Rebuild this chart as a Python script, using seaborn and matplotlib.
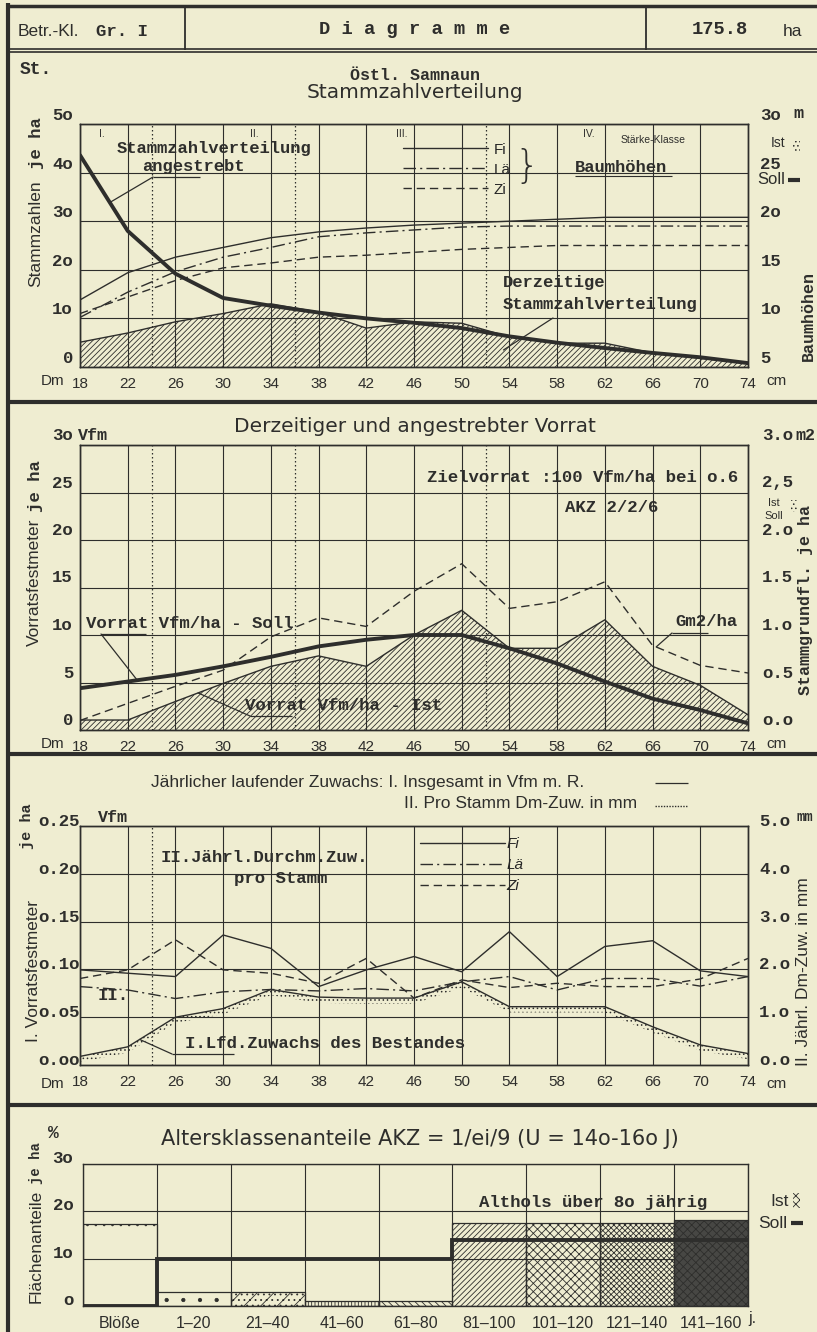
import numpy as np
import pandas as pd
import matplotlib
matplotlib.use("Agg")
import matplotlib.pyplot as plt
import seaborn as sns
from matplotlib.transforms import ScaledTranslation
from matplotlib.lines import Line2D
from matplotlib.patches import Rectangle

# ---------------- data ----------------
dm = [18, 22, 26, 30, 34, 38, 42, 46, 50, 54, 58, 62, 66, 70, 74]
dm_labels = ["18", "22", "26", "30", "34", "38", "42", "46", "50", "54", "58", "62", "66", "70", "74"]

# Panel 1: Stammzahlverteilung (St. je ha) and Baumhöhen (m)
stamm_soll = [43.6, 28.0, 19.2, 14.2, 12.6, 11.2, 10.0, 9.1, 8.0, 6.3, 5.0, 3.9, 2.9, 2.0, 0.8]
stamm_ist = [5.1, 7.0, 9.3, 11.0, 13.0, 11.3, 8.0, 9.3, 9.0, 6.2, 4.9, 4.9, 2.9, 1.8, 0.8]
hoehe_fi = [11.9, 14.7, 16.3, 17.3, 18.3, 18.9, 19.3, 19.6, 19.8, 20.0, 20.2, 20.4, 20.4, 20.4, 20.4]
hoehe_lae = [10.1, 12.7, 14.8, 16.3, 17.3, 18.4, 18.8, 19.1, 19.4, 19.5, 19.5, 19.5, 19.5, 19.5, 19.5]
hoehe_zi = [10.5, 12.2, 13.9, 15.2, 15.7, 16.3, 16.5, 16.8, 17.1, 17.3, 17.5, 17.5, 17.5, 17.5, 17.5]
st_ticks = [0, 10, 20, 30, 40, 50]
st_labels = ["0", "1o", "2o", "3o", "4o", "5o"]
h_ticks = [5, 10, 15, 20, 25, 30]
h_labels = ["5", "1o", "15", "2o", "25", "3o"]

# Panel 2: Vorrat (Vfm je ha) and Stammgrundfläche (m2 je ha)
vorrat_soll = [4.4, 5.1, 5.8, 6.7, 7.7, 8.8, 9.5, 10.0, 10.0, 8.6, 7.0, 5.1, 3.3, 2.1, 0.7]
vorrat_ist = [1.05, 1.05, 3.0, 4.9, 6.7, 7.8, 6.7, 10.0, 12.6, 8.6, 8.6, 11.6, 6.7, 4.7, 1.6]
grundfl = [0.10, 0.28, 0.46, 0.63, 0.98, 1.18, 1.09, 1.46, 1.75, 1.28, 1.35, 1.56, 0.89, 0.68, 0.60]
v_ticks = [0, 5, 10, 15, 20, 25, 30]
v_labels = ["0", "5", "1o", "15", "2o", "25", "3o"]
g_ticks = [0.0, 0.5, 1.0, 1.5, 2.0, 2.5, 3.0]
g_labels = ["o.o", "o.5", "1.o", "1.5", "2.o", "2,5", "3.o"]

# Panel 3: Zuwachs (Vfm) and Durchmesserzuwachs (mm)
zuw_fi = [1.99, 1.92, 1.85, 2.72, 2.44, 1.64, 1.99, 2.27, 1.95, 2.79, 1.85, 2.48, 2.60, 1.97, 1.85]
zuw_zi = [1.81, 1.99, 2.62, 1.99, 1.92, 1.71, 2.23, 1.40, 1.78, 1.62, 1.71, 1.64, 1.64, 1.80, 2.23]
zuw_lae = [1.64, 1.57, 1.39, 1.53, 1.58, 1.55, 1.60, 1.55, 1.74, 1.85, 1.57, 1.81, 1.81, 1.65, 1.85]
zuw_lfd = [0.009, 0.019, 0.050, 0.059, 0.079, 0.071, 0.070, 0.070, 0.087, 0.061, 0.061, 0.061, 0.040, 0.021, 0.012]
z_ticks = [0.0, 0.05, 0.10, 0.15, 0.20, 0.25]
z_labels = ["o.oo", "o.o5", "o.1o", "o.15", "o.2o", "o.25"]
mm_ticks = [0, 1, 2, 3, 4, 5]
mm_labels = ["o.o", "1.o", "2.o", "3.o", "4.o", "5.o"]

# Panel 4: Altersklassenanteile (ha)
klassen = ["Blöße", "1–20", "21–40", "41–60", "61–80", "81–100", "101–120", "121–140", "141–160"]
flaeche_ist = [17.3, 3.0, 3.0, 1.1, 1.1, 17.5, 17.5, 17.5, 18.2]
flaeche_soll = [0, 10, 10, 10, 10, 14, 14, 14, 14]
f_ticks = [0, 10, 20, 30]
f_labels = ["o", "1o", "2o", "3o"]

# ---------------- style ----------------
BG = "#efedd1"
INK = "#2e2e2c"
sns.set_style("ticks")
SANS = ["DejaVu Sans"]
NARROW = ["Liberation Sans", "DejaVu Sans"]
MONO = "Liberation Mono"
plt.rcParams["font.family"] = NARROW
plt.rcParams["hatch.linewidth"] = 0.6
plt.rcParams["hatch.color"] = INK
plt.rcParams["axes.edgecolor"] = INK
plt.rcParams["axes.linewidth"] = 1.0

W, H = 817, 1332
fig = plt.figure(figsize=(W / 100, H / 100), dpi=100, facecolor=BG)


def add_ax(x0, y0, x1, y1):
    a = fig.add_axes([x0 / W, 1 - y1 / H, (x1 - x0) / W, (y1 - y0) / H])
    a.set_facecolor("none")
    return a


ax0 = fig.add_axes([0, 0, 1, 1], zorder=5)
ax0.set_xlim(0, W)
ax0.set_ylim(H, 0)
ax0.axis("off")


def T(x, y, s, size=11, ha="left", va="center", mono=False, rot=0, wide=False, **kw):
    fam = MONO if mono else (SANS if wide else NARROW)
    wt = "bold" if mono else "normal"
    return ax0.text(x, y, s, fontsize=size, ha=ha, va=va, family=fam, weight=wt,
                    rotation=rot, color=INK, **kw)


def seg(xs, ys, lw=0.9, **kw):
    ax0.plot(xs, ys, color=INK, lw=lw, solid_capstyle="butt", **kw)


def leader(ax, xy, px, py):
    ax.annotate("", xy=xy, xycoords="data", xytext=(px, H - py), textcoords="figure pixels",
                arrowprops=dict(arrowstyle="-", color=INK, lw=0.9, shrinkA=0, shrinkB=0))


def shift_labels(labels, dy_px):
    off = ScaledTranslation(0, dy_px / 100, fig.dpi_scale_trans)
    for lab in labels:
        lab.set_transform(lab.get_transform() + off)


def dm_axis(ax, dotted):
    ax.set_xlim(18, 74)
    ax.set_xticks(dm, dm_labels, fontsize=11)
    ax.set_xticks(dotted, minor=True)
    ax.grid(True, which="major", color=INK, lw=0.8)
    ax.grid(True, which="minor", axis="x", color=INK, lw=0.9, ls=(0, (1.2, 2.0)))
    ax.tick_params(which="both", length=0, colors=INK)
    ax.tick_params(axis="x", pad=7)


LSTY = {"Fi": "-", "Lä": (0, (9, 3, 1.5, 3)), "Zi": (0, (6, 3.5))}

# ---------------- frame / header ----------------
seg([8, 8], [3, H], lw=3)
seg([8, W], [6, 6], lw=2.5)
seg([8, W], [49, 49], lw=1.2)
seg([8, W], [52, 52], lw=1.2)
seg([185, 185], [6, 50], lw=1.3)
seg([646, 646], [6, 50], lw=1.3)
for yy in (402, 754, 1105):
    seg([8, W], [yy, yy], lw=3)

T(18, 31, "Betr.-Kl.", size=12.5)
T(96, 31, "Gr. I", size=12.5, mono=True)
T(415, 30, "D i a g r a m m e", size=13.5, ha="center", mono=True)
T(720, 30, "175.8", size=13.5, ha="center", mono=True)
T(783, 31, "ha", size=12.5)

# ---------------- Panel 1 ----------------
ax1 = add_ax(80, 124, 748, 367)
ax1.fill_between(dm, 0, stamm_ist, facecolor="none", edgecolor=INK, hatch="//////", lw=0)
sns.lineplot(x=dm, y=stamm_ist, ax=ax1, color=INK, lw=1.0)
sns.lineplot(x=dm, y=stamm_soll, ax=ax1, color=INK, lw=2.8)
ax1.set_ylim(0, 50)
ax1.set_yticks(st_ticks, st_labels, family=MONO, weight="bold", fontsize=12.5)
dm_axis(ax1, [24, 36, 52])
ax1.tick_params(axis="y", pad=5)
ax1b = ax1.twinx()
sns.lineplot(x=dm, y=hoehe_fi, ax=ax1b, color=INK, lw=1.0, ls=LSTY["Fi"])
sns.lineplot(x=dm, y=hoehe_lae, ax=ax1b, color=INK, lw=1.0, ls=LSTY["Lä"])
sns.lineplot(x=dm, y=hoehe_zi, ax=ax1b, color=INK, lw=1.0, ls=LSTY["Zi"])
ax1b.set_ylim(5, 30)
ax1b.set_yticks(h_ticks, h_labels, family=MONO, weight="bold", fontsize=12.5)
ax1b.tick_params(length=0, pad=9, colors=INK)
ax1b.set_xlim(18, 74)
ax1b.set_ylabel("")
ax1.set_ylabel("")
ax1b.legend(handles=[Line2D([], [], color=INK, lw=1.0, ls=LSTY[k]) for k in LSTY],
            labels=list(LSTY), loc="upper left", bbox_to_anchor=(0.472, 0.955),
            frameon=False, handlelength=5.6, handletextpad=0.35, labelspacing=0.4,
            borderpad=0, prop=dict(size=11, family=NARROW))
shift_labels(ax1.get_yticklabels(), 10)
shift_labels(ax1b.get_yticklabels(), 10)

T(20, 70, "St.", size=13, mono=True)
T(415, 75, "Östl. Samnaun", size=12, ha="center", mono=True)
T(415, 93, "Stammzahlverteilung", size=14.5, ha="center", wide=True)
T(793, 114, "m", size=12, mono=True)
T(36, 234, "Stammzahlen", size=12.5, ha="center", rot=90)
T(37, 143, "je ha", size=12.5, ha="center", rot=90, mono=True)
T(808, 316, "Baumhöhen", size=12, ha="center", rot=90, mono=True)
T(99, 134, "I.", size=7.5)
T(250, 134, "II.", size=7.5)
T(396, 134, "III.", size=7.5)
T(583, 134, "IV.", size=7.5)
T(653, 140, "Stärke-Klasse", size=7.5, ha="center")
ax0.text(527, 167, "}", fontsize=28, ha="center", va="center", family="DejaVu Sans",
         weight="light", color=INK)
T(117, 148, "Stammzahlverteilung", size=12.3, mono=True)
T(142, 167, "angestrebt", size=12.3, mono=True)
seg([153, 200], [177, 177])
leader(ax1, (20.5, float(np.interp(20.5, dm, stamm_soll))), 153, 177)
T(575, 167, "Baumhöhen", size=12.3, mono=True)
seg([575, 672], [176, 176], lw=0.8)
T(503, 282, "Derzeitige", size=12.3, mono=True)
T(503, 305, "Stammzahlverteilung", size=12.3, mono=True)
leader(ax1, (53.5, 3.5), 553, 318)
T(771, 143, "Ist", size=10)
ax0.add_patch(Rectangle((793, 141), 7, 12, facecolor="none", edgecolor=INK, hatch="....", lw=0))
T(757, 180, "Soll", size=12)
seg([788, 800], [180, 180], lw=3)
T(64, 381, "Dm", size=11, ha="right")
T(766, 381, "cm", size=11)

# ---------------- Panel 2 ----------------
ax2 = add_ax(80, 445, 748, 730)
ax2.fill_between(dm, 0, vorrat_ist, facecolor="none", edgecolor=INK, hatch="//////", lw=0)
sns.lineplot(x=dm, y=vorrat_ist, ax=ax2, color=INK, lw=1.0)
sns.lineplot(x=dm, y=vorrat_soll, ax=ax2, color=INK, lw=2.8)
ax2.set_ylim(0, 30)
ax2.set_yticks(v_ticks, v_labels, family=MONO, weight="bold", fontsize=12.5)
dm_axis(ax2, [24, 36, 52])
ax2.tick_params(axis="y", pad=5)
ax2b = ax2.twinx()
sns.lineplot(x=dm, y=grundfl, ax=ax2b, color=INK, lw=1.0, ls=LSTY["Zi"])
ax2b.set_ylim(0, 3.0)
ax2b.set_yticks(g_ticks, g_labels, family=MONO, weight="bold", fontsize=12.5)
ax2b.tick_params(length=0, pad=10, colors=INK)
ax2b.set_xlim(18, 74)
ax2.set_ylabel("")
ax2b.set_ylabel("")
shift_labels(ax2.get_yticklabels(), 11)
shift_labels(ax2b.get_yticklabels(), 11)

T(415, 427, "Derzeitiger und angestrebter Vorrat", size=14.5, ha="center", wide=True)
T(78, 435, "Vfm", size=12, mono=True)
T(795, 435, "m2", size=12, mono=True)
T(34, 582, "Vorratsfestmeter", size=12.5, ha="center", rot=90)
T(36, 486, "je ha", size=12.5, ha="center", rot=90, mono=True)
T(806, 600, "Stammgrundfl. je ha", size=12, ha="center", rot=90, mono=True)
T(427, 477, "Zielvorrat :100 Vfm/ha bei o.6", size=12.5, mono=True)
T(565, 507, "AKZ 2/2/6", size=12.5, mono=True)
T(86, 623, "Vorrat Vfm/ha - Soll", size=12.5, mono=True)
seg([101, 146], [634, 634])
leader(ax2, (22.8, float(np.interp(22.8, dm, vorrat_soll))), 101, 634)
T(245, 705, "Vorrat Vfm/ha - Ist", size=12.5, mono=True)
seg([250, 292], [716, 716])
leader(ax2, (27.9, float(np.interp(27.9, dm, vorrat_ist))), 250, 716)
T(675, 622, "Gm2/ha", size=12.5, mono=True)
seg([672, 708], [633, 633])
leader(ax2b, (66.3, float(np.interp(66.3, dm, grundfl))), 672, 633)
T(768, 503, "Ist", size=8)
T(764, 516, "Soll", size=8)
ax0.add_patch(Rectangle((791, 500), 6, 12, facecolor="none", edgecolor=INK, hatch="....", lw=0))
T(64, 744, "Dm", size=11, ha="right")
T(766, 744, "cm", size=11)

# ---------------- Panel 3 ----------------
ax3 = add_ax(80, 826, 748, 1065)
lfd = np.array(zuw_lfd)
ax3.fill_between(dm, np.clip(lfd - 0.006, 0, None), lfd, facecolor="none", edgecolor=INK,
                 hatch="....", lw=0)
sns.lineplot(x=dm, y=zuw_lfd, ax=ax3, color=INK, lw=1.0)
ax3.set_ylim(0, 0.25)
ax3.set_yticks(z_ticks, z_labels, family=MONO, weight="bold", fontsize=12.5)
dm_axis(ax3, [24])
ax3.tick_params(axis="y", pad=0)
ax3b = ax3.twinx()
sns.lineplot(x=dm, y=zuw_fi, ax=ax3b, color=INK, lw=1.0, ls=LSTY["Fi"])
sns.lineplot(x=dm, y=zuw_lae, ax=ax3b, color=INK, lw=1.0, ls=LSTY["Lä"])
sns.lineplot(x=dm, y=zuw_zi, ax=ax3b, color=INK, lw=1.0, ls=LSTY["Zi"])
ax3b.set_ylim(0, 5)
ax3b.set_yticks(mm_ticks, mm_labels, family=MONO, weight="bold", fontsize=12.5)
ax3b.tick_params(length=0, pad=8, colors=INK)
ax3b.set_xlim(18, 74)
ax3.set_ylabel("")
ax3b.set_ylabel("")
ax3b.legend(handles=[Line2D([], [], color=INK, lw=1.0, ls=LSTY[k]) for k in LSTY],
            labels=list(LSTY), loc="upper left", bbox_to_anchor=(0.497, 0.985),
            frameon=False, handlelength=5.6, handletextpad=0.1, labelspacing=0.45,
            borderpad=0, prop=dict(size=11, family=NARROW, style="italic"))
shift_labels(ax3.get_yticklabels(), 6)
shift_labels(ax3b.get_yticklabels(), 6)

T(151, 783, "Jährlicher laufender Zuwachs: I. Insgesamt in Vfm m. R.", size=12.5)
seg([655, 688], [783, 783])
T(404, 804, "II. Pro Stamm Dm-Zuw. in mm", size=12.5)
seg([655, 688], [806, 806], lw=1.0, ls=(0, (1, 1)))
T(98, 817, "Vfm", size=12, mono=True)
T(797, 817, "mm", size=10, mono=True)
T(34, 971, "I. Vorratsfestmeter", size=12.5, ha="center", rot=90)
T(27, 826, "je ha", size=11, ha="center", rot=90, mono=True)
T(804, 972, "II. Jährl. Dm-Zuw. in mm", size=12.5, ha="center", rot=90)
T(161, 857, "II.Jährl.Durchm.Zuw.", size=12.5, mono=True)
T(234, 879, "pro Stamm", size=12.5, mono=True)
T(98, 995, "II.", size=12.5, mono=True)
T(185, 1043, "I.Lfd.Zuwachs des Bestandes", size=12.5, mono=True)
seg([172, 234], [1054, 1054])
leader(ax3, (23.0, float(np.interp(23.0, dm, zuw_lfd))), 172, 1054)
T(64, 1084, "Dm", size=11, ha="right")
T(766, 1084, "cm", size=11)

# ---------------- Panel 4 ----------------
ax4 = add_ax(83, 1164, 748, 1306)
df4 = pd.DataFrame({"klasse": klassen, "ist": flaeche_ist})
sns.barplot(data=df4, x="klasse", y="ist", ax=ax4, width=1.0, color=BG, saturation=1,
            edgecolor=INK, linewidth=0.9)
hatches = ["", ". ", "//...", "|||||", "\\\\\\\\\\", "//////", "xxxx", "xxxxxx", "xxxx"]
faces = ["none", "none", "none", "none", "none", "none", "none", "none", "#474744"]
for p, h, fc in zip(ax4.patches, hatches, faces):
    p.set_hatch(h)
    p.set_facecolor(fc)
    p.set_edgecolor(INK)
    p.set_linewidth(0.9)
ax4.bar(0, 1.6, bottom=flaeche_ist[0] - 1.6, width=1.0, facecolor="none", edgecolor=INK,
        hatch="..", lw=0)
ax4.stairs(flaeche_soll, np.arange(len(klassen) + 1) - 0.5, baseline=None, color=INK, lw=2.8)
ax4.set_xlim(-0.5, len(klassen) - 0.5)
ax4.set_ylim(0, 30)
ax4.set_yticks(f_ticks, f_labels, family=MONO, weight="bold", fontsize=12.5)
ax4.set_xticks(np.arange(len(klassen)), klassen, fontsize=11.5)
ax4.set_xticks(np.arange(len(klassen) + 1) - 0.5, minor=True)
ax4.set_axisbelow(True)
ax4.grid(True, which="major", axis="y", color=INK, lw=0.8)
ax4.grid(True, which="minor", axis="x", color=INK, lw=0.8)
ax4.tick_params(which="both", length=0, colors=INK)
ax4.tick_params(axis="x", pad=7)
ax4.tick_params(axis="y", pad=7)
ax4.set_xlabel("")
ax4.set_ylabel("")
shift_labels(ax4.get_yticklabels(), 7)

T(420, 1139, "Altersklassenanteile AKZ = 1/ei/9 (U = 14o-16o J)", size=15, ha="center", wide=True)
T(53, 1133, "%", size=13, mono=True, ha="center")
T(36, 1246, "Flächenanteile", size=12.5, ha="center", rot=90)
T(36, 1163, "je ha", size=10, ha="center", rot=90, mono=True)
T(479, 1202, "Althols über 8o jährig", size=12.5, mono=True)
T(770, 1201, "Ist", size=12.5)
ax0.add_patch(Rectangle((793, 1193), 7, 15, facecolor="none", edgecolor=INK, hatch="xxxx", lw=0))
T(758, 1223, "Soll", size=12.5)
seg([791, 803], [1223, 1223], lw=3)
T(748, 1319, "j.", size=11.5)

fig.savefig("out.png", dpi=100, facecolor=BG)
